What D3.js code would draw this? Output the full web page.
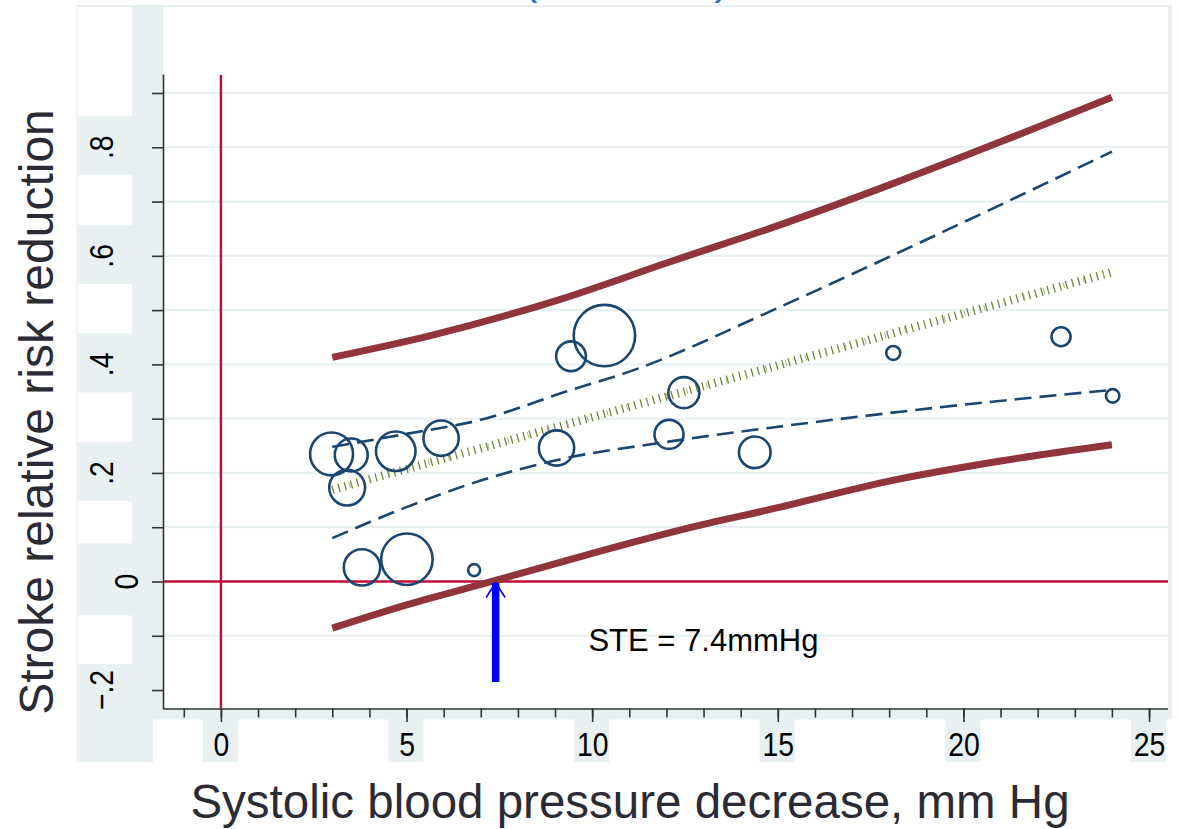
<!DOCTYPE html>
<html>
<head>
<meta charset="utf-8">
<script src="https://cdn.jsdelivr.net/npm/d3@7"></script>
<style>
  html, body { margin: 0; padding: 0; background: #ffffff; }
  svg { display: block; font-family: "Liberation Sans", Arial, sans-serif; }
</style>
</head>
<body>
<svg id="chart" width="1179" height="829"></svg>
<script>
// ---- data -------------------------------------------------------------
// Trials: systolic BP decrease (mm Hg), stroke relative risk reduction, weight
const trialSBP    = [2.98, 3.51, 3.40, 4.71, 5.93, 10.33, 9.43, 12.47, 9.04, 12.07, 14.38, 3.80, 5.01, 6.82, 18.11, 22.63, 24.02];
const trialRRR    = [0.235, 0.233, 0.173, 0.240, 0.264, 0.453, 0.415, 0.348, 0.246, 0.271, 0.238, 0.026, 0.041, 0.021, 0.421, 0.451, 0.342];
const trialWeight = [46, 27, 32, 39, 31, 94, 22, 24, 31, 21, 25, 33, 66, 3.6, 4.9, 9, 4.5];

// Meta-regression fit and bands, as [SBP decrease, RRR] pairs
const fitLine        = [[3.0, 0.169], [24.0, 0.570]];
const ciUpper        = [[3.0, 0.248], [5.0, 0.272], [7.0, 0.298], [9.3, 0.350], [11.1, 0.389], [15.0, 0.504], [18.0, 0.598], [21.0, 0.694], [24.0, 0.792]];
const ciLower        = [[3.0, 0.080], [5.0, 0.137], [7.0, 0.186], [9.0, 0.223], [12.0, 0.257], [15.0, 0.285], [19.5, 0.322], [24.0, 0.353]];
const predUpper      = [[3.0, 0.413], [5.7, 0.454], [9.1, 0.519], [12.1, 0.589], [15.1, 0.658], [18.1, 0.733], [21.0, 0.810], [24.0, 0.892]];
const predLower      = [[3.0, -0.086], [5.0, -0.043], [7.3, 0.0], [10.0, 0.052], [12.5, 0.097], [15.0, 0.136], [18.0, 0.185], [21.0, 0.222], [24.0, 0.252]];

// Smallest treatment effect marker
const steValue  = 7.4;
const steArrowFrom = -0.185;
const steLabel  = "STE = 7.4mmHg";
const steLabelAt = [9.9, -0.128];

// Axis ticks and labels
const xMajorTicks = [0, 5, 10, 15, 20, 25];
const xMinorTicks = d3.range(-1, 26);
const yTicks      = [-0.2, -0.1, 0, 0.1, 0.2, 0.3, 0.4, 0.5, 0.6, 0.7, 0.8, 0.9];
const yLabelTicks = [-0.2, 0, 0.2, 0.4, 0.6, 0.8];
const yGridTicks  = [-0.1, 0.1, 0.2, 0.3, 0.4, 0.5, 0.6, 0.7, 0.8, 0.9];
const xTitle = "Systolic blood pressure decrease, mm Hg";
const yTitle = "Stroke relative risk reduction";

// ---- layout -------------------------------------------------------------
const svg = d3.select("#chart");
const pale = "#e8f0f2";
const ink = "#333333";
const navy = "#1a476f";
const maroon = "#90353b";
const refRed = "#c40a36";

const x = d3.scaleLinear().domain([-1.56, 25.5]).range([163, 1167.6]);
const y = d3.scaleLinear().domain([-0.234, 0.935]).range([708.5, 74]);
const r = d3.scaleSqrt().domain([0, d3.max(trialWeight)]).range([0, 30.7]);

const fmtY = v => v === 0 ? "0" : d3.format(".1f")(v).replace("0.", ".");

// background regions around the plot
const bg = svg.append("g");
bg.append("rect").attr("width", 1179).attr("height", 829).attr("fill", "#fff");
bg.append("rect").attr("x", 77).attr("y", 5).attr("width", 1095).attr("height", 2).attr("fill", pale);
bg.append("rect").attr("x", 76.5).attr("y", 5).attr("width", 1.5).attr("height", 757).attr("fill", pale);
bg.append("rect").attr("x", 1168).attr("y", 5).attr("width", 4).attr("height", 714).attr("fill", pale);
bg.append("rect").attr("x", 132).attr("y", 6).attr("width", 31).attr("height", 703).attr("fill", pale);
bg.append("rect").attr("x", 77).attr("y", 708.5).attr("width", 1093).attr("height", 11).attr("fill", pale);
bg.append("rect").attr("x", 77).attr("y", 708).attr("width", 76).attr("height", 54).attr("fill", pale);
bg.selectAll(".ybox").data(yLabelTicks).join("rect")
  .attr("x", 77).attr("width", 56)
  .attr("y", d => d === 0 ? y(d) - 38 : (d === -0.2 ? y(d) - 26 : y(d) - 31))
  .attr("height", d => d === 0 ? 72 : (d === -0.2 ? 762 - (y(d) - 26) : 59))
  .attr("fill", pale);
bg.selectAll(".xbox").data(xMajorTicks).join("rect")
  .attr("x", d => x(d) - 18).attr("width", 35)
  .attr("y", 719).attr("height", 43)
  .attr("fill", pale);

// title, running off the top edge
const titleG = svg.append("g").attr("fill", "#1f78c8").style("font-size", "46px");
titleG.append("text").attr("x", 530).attr("y", -7).attr("text-anchor", "middle").text("(");
titleG.append("text").attr("x", 722).attr("y", -7).attr("text-anchor", "middle").text(")");

// gridlines
svg.append("g").selectAll("line").data(yGridTicks).join("line")
  .attr("x1", 164).attr("x2", 1168)
  .attr("y1", d => y(d)).attr("y2", d => y(d))
  .attr("stroke", pale).attr("stroke-width", 2.2);

// reference lines at zero
svg.append("line").attr("x1", 164).attr("x2", 1168).attr("y1", y(0)).attr("y2", y(0))
  .attr("stroke", refRed).attr("stroke-width", 2.4);
svg.append("line").attr("x1", x(0)).attr("x2", x(0)).attr("y1", 75).attr("y2", 708)
  .attr("stroke", refRed).attr("stroke-width", 2.4);

// axes
const yAxis = svg.append("g").attr("transform", "translate(163,0)")
  .call(d3.axisLeft(y).tickValues(yTicks).tickSize(11).tickSizeOuter(0).tickFormat(""));
const xMinor = svg.append("g").attr("transform", "translate(0,708.5)")
  .call(d3.axisBottom(x).tickValues(xMinorTicks).tickSize(9).tickSizeOuter(0).tickFormat(""));
const xMajor = svg.append("g").attr("transform", "translate(0,708.5)")
  .call(d3.axisBottom(x).tickValues(xMajorTicks).tickSize(13.5).tickSizeOuter(0).tickFormat(d3.format("d")));
xMajor.select(".domain").remove();
[yAxis, xMinor, xMajor].forEach(g => {
  g.selectAll("path, line").attr("stroke", ink).attr("stroke-width", 1.6);
});
xMajor.selectAll("text")
  .attr("y", 24.5).attr("dy", "0.71em")
  .attr("fill", "#000").style("font-size", "33px")
  .attr("transform", "scale(0.86,1)")
  .attr("font-family", null);

// y tick labels (rotated)
svg.append("g").selectAll("text").data(yLabelTicks).join("text")
  .attr("transform", d => `translate(${d === 0 ? 138 : 113},${y(d)}) rotate(-90) scale(0.86,1)`)
  .attr("text-anchor", "middle")
  .attr("fill", "#000").style("font-size", "33px")
  .text(fmtY);

// axis titles
svg.append("text").attr("x", 630).attr("y", 818).attr("text-anchor", "middle")
  .attr("fill", "#2b2b36").style("font-size", "47.5px").text(xTitle);
svg.append("text").attr("transform", "translate(52.5,412) rotate(-90)").attr("text-anchor", "middle")
  .attr("fill", "#2b2b36").style("font-size", "48px").text(yTitle);

// curves
const line = d3.line().x(d => x(d[0])).y(d => y(d[1])).curve(d3.curveMonotoneX);
const curves = svg.append("g").attr("fill", "none");
curves.append("path").attr("d", line(predUpper)).attr("stroke", maroon).attr("stroke-width", 7);
curves.append("path").attr("d", line(predLower)).attr("stroke", maroon).attr("stroke-width", 7);
curves.append("path").attr("d", line(ciUpper)).attr("stroke", navy).attr("stroke-width", 2.6).attr("stroke-dasharray", "17 8");
curves.append("path").attr("d", line(ciLower)).attr("stroke", navy).attr("stroke-width", 2.6).attr("stroke-dasharray", "17 8");
// fitted line drawn as a hatched band of short strokes
curves.append("path").attr("d", line(fitLine)).attr("stroke", "#6f8633").attr("stroke-width", 8.5).attr("stroke-dasharray", "1.3 5.1");
curves.append("path").attr("d", line(fitLine)).attr("stroke", "#a3b27a").attr("stroke-width", 6).attr("stroke-dasharray", "1 19.6").attr("stroke-dashoffset", 3.2);

// trial bubbles
svg.append("g").selectAll("circle").data(trialSBP.map((d, i) => i)).join("circle")
  .attr("cx", i => x(trialSBP[i]))
  .attr("cy", i => y(trialRRR[i]))
  .attr("r", i => r(trialWeight[i]))
  .attr("fill", "none").attr("stroke", navy).attr("stroke-width", 2.6);

// STE arrow
const arrow = svg.append("g").attr("stroke", "#0000ff");
arrow.append("line")
  .attr("x1", x(steValue)).attr("x2", x(steValue))
  .attr("y1", y(steArrowFrom)).attr("y2", y(0) + 1.5)
  .attr("stroke-width", 7.5);
arrow.append("polyline")
  .attr("points", `${x(steValue) - 9.5},${y(0) + 16} ${x(steValue)},${y(0) + 1} ${x(steValue) + 9.5},${y(0) + 16}`)
  .attr("fill", "none").attr("stroke-width", 1.6);

svg.append("text").attr("x", x(steLabelAt[0])).attr("y", y(steLabelAt[1]))
  .attr("fill", "#000").style("font-size", "31px").text(steLabel);
</script>
</body>
</html>
